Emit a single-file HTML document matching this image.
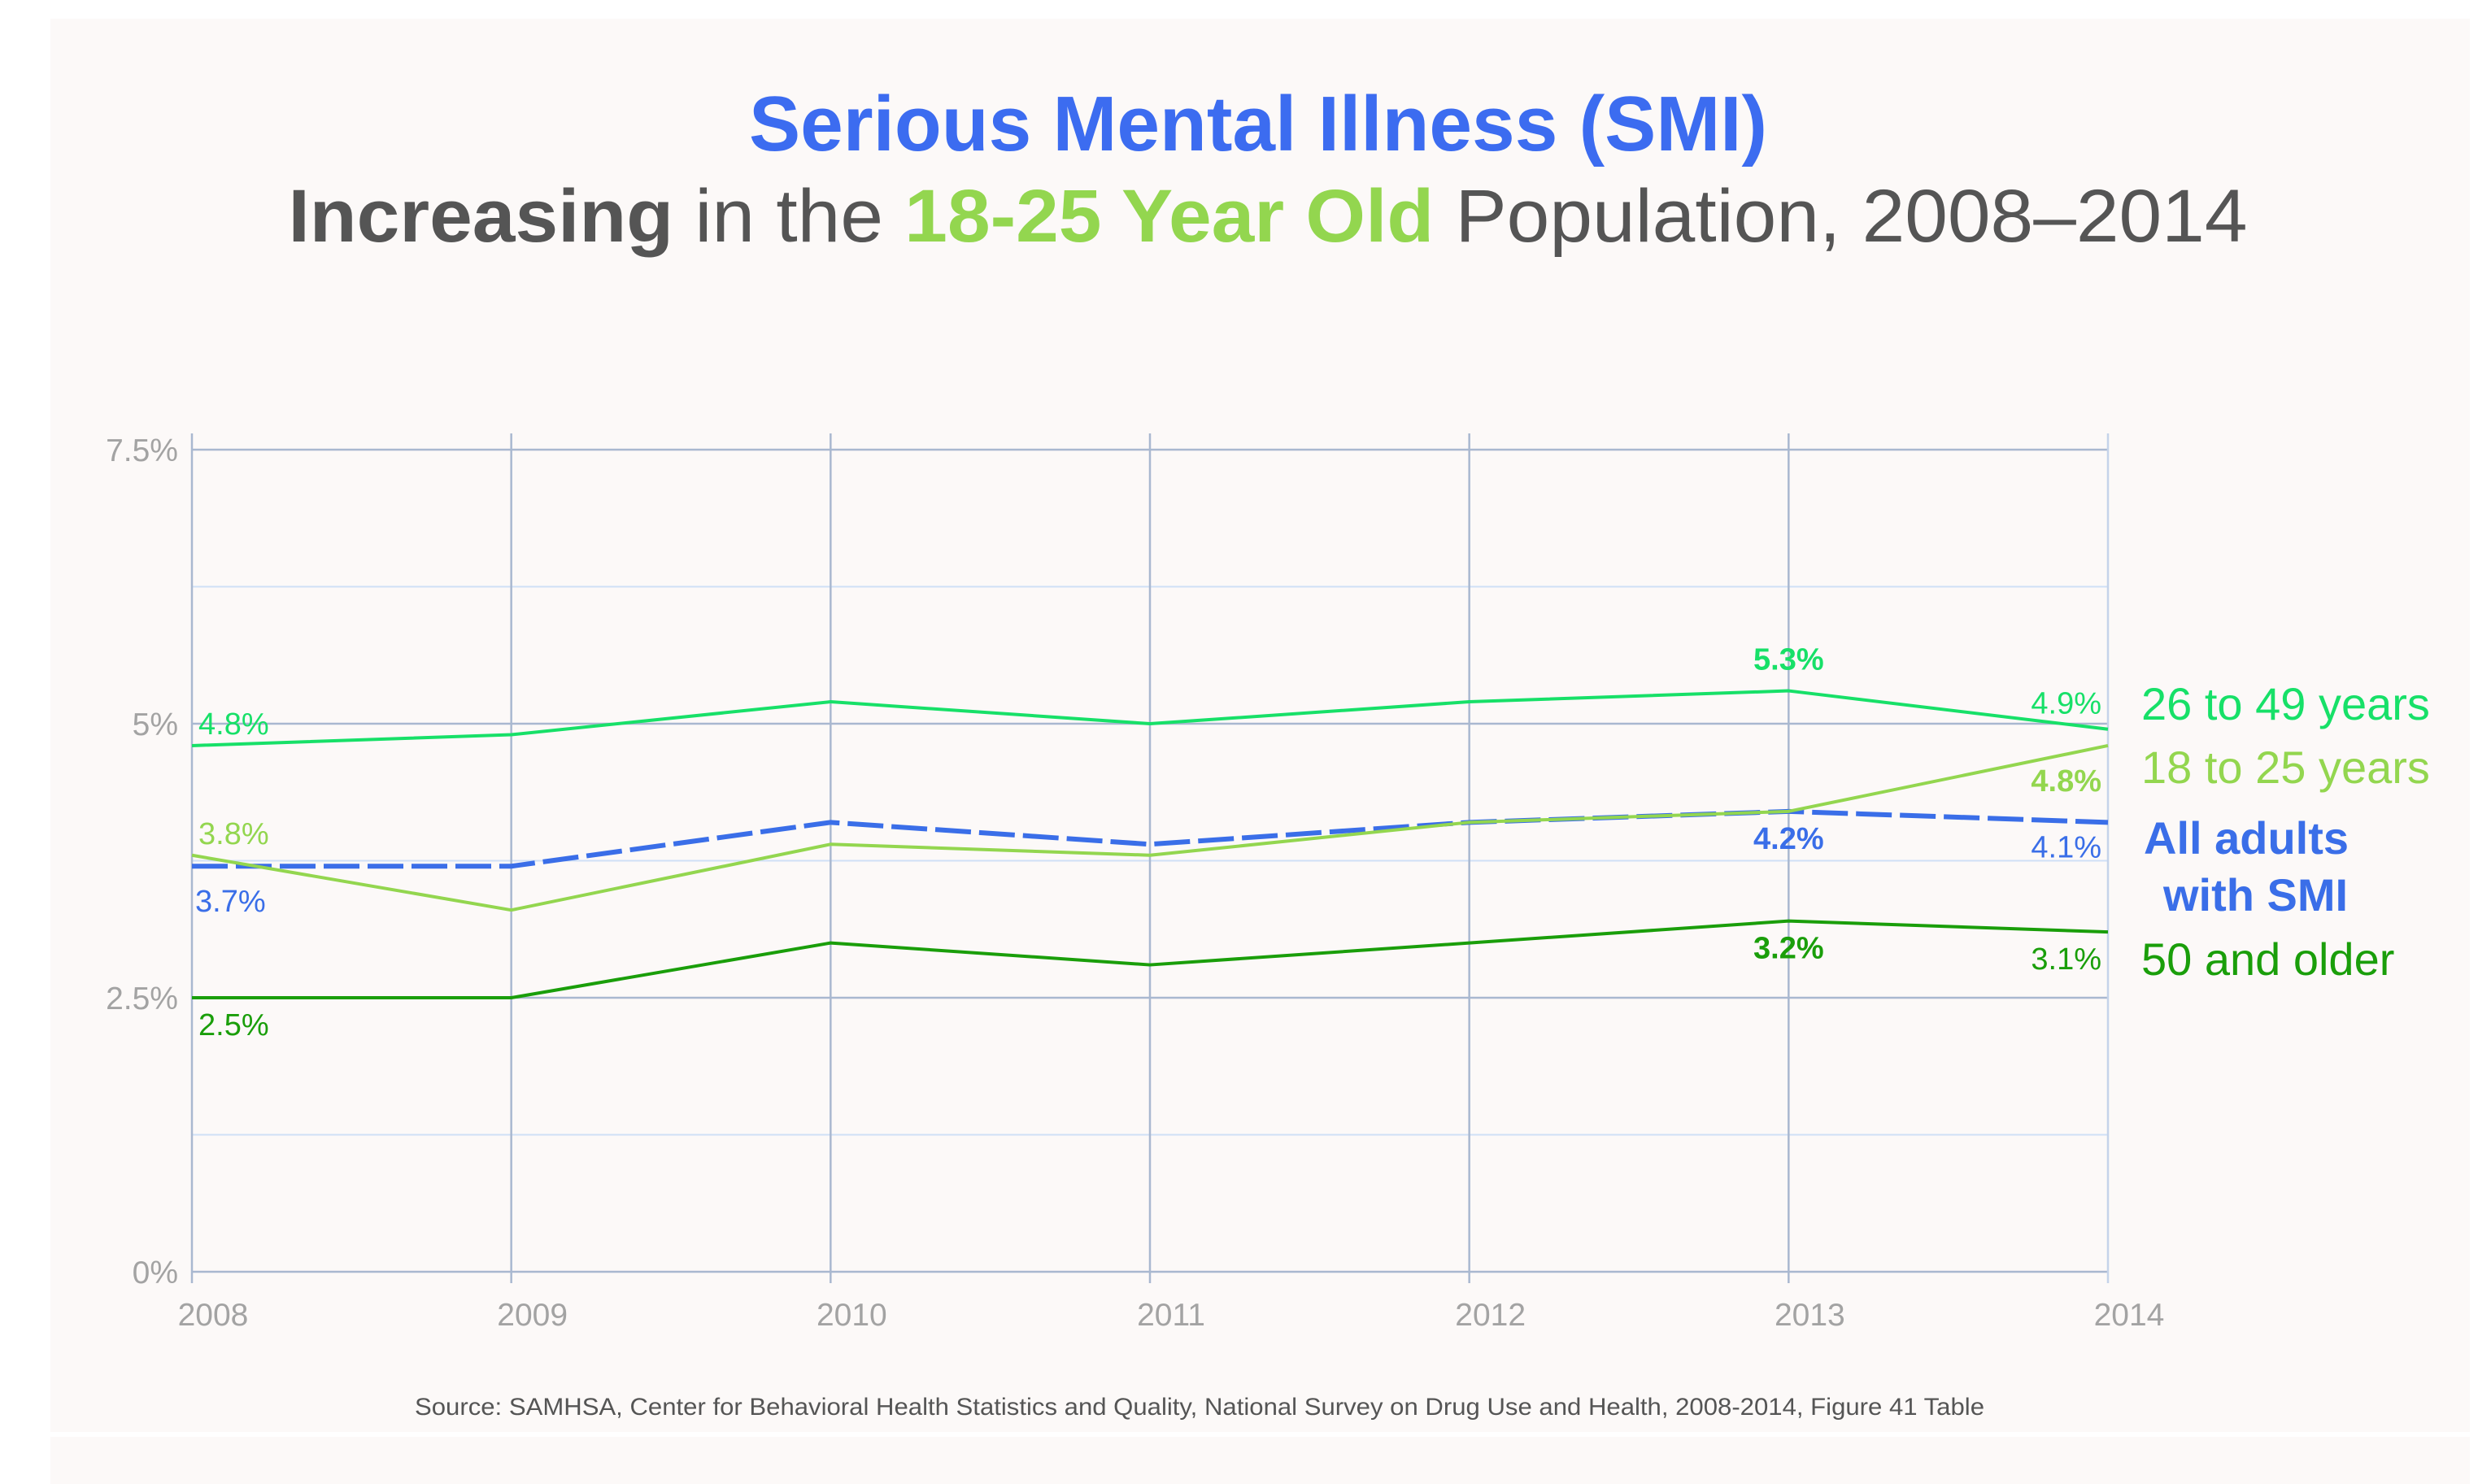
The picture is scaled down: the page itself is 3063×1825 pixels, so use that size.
<!DOCTYPE html>
<html><head><meta charset="utf-8">
<style>
html,body{margin:0;padding:0;background:#fff;}
svg{display:block;font-family:"Liberation Sans",Arial,sans-serif;}
</style></head>
<body>
<svg id="chart" width="3063" height="1825" viewBox="0 0 3063 1825" xmlns="http://www.w3.org/2000/svg">
<rect x="0" y="0" width="3063" height="1825" fill="#ffffff"/>
<rect x="62" y="23" width="2975" height="1738" fill="#fcf9f8"/>
<rect x="62" y="1767" width="2975" height="58" fill="#fcf9f8"/>
<text x="1547" y="185" text-anchor="middle" font-size="96" font-weight="bold" fill="#3c6cf0" textLength="1252" lengthAdjust="spacingAndGlyphs">Serious Mental Illness (SMI)</text>
<text x="1559" y="297" text-anchor="middle" font-size="92" fill="#555555" textLength="2409" lengthAdjust="spacingAndGlyphs"><tspan font-weight="bold">Increasing</tspan> in the <tspan font-weight="bold" fill="#93d64f">18-25 Year Old</tspan> Population, 2008–2014</text>
<g id="grid"></g>
<g id="axes"></g>
<g id="series"></g>
<g id="labels"></g>
<g font-size="56">
<text x="2633" y="885" fill="#17e068">26 to 49 years</text>
<text x="2633" y="963" fill="#93d64f">18 to 25 years</text>
<text x="2636" y="1050" fill="#3a6ee8" font-weight="bold">All adults</text>
<text x="2660" y="1120" fill="#3a6ee8" font-weight="bold">with SMI</text>
<text x="2633" y="1199" fill="#1a9e0a">50 and older</text>
</g>
<text x="1475" y="1740" text-anchor="middle" font-size="30" fill="#555555" textLength="1930" lengthAdjust="spacingAndGlyphs">Source: SAMHSA, Center for Behavioral Health Statistics and Quality, National Survey on Drug Use and Health, 2008-2014,  Figure 41 Table</text>
</svg>
<script>
const years = ["2008","2009","2010","2011","2012","2013","2014"];
const yTicks = [0, 2.5, 5, 7.5];
const yTickLabels = ["0%","2.5%","5%","7.5%"];
const minorTicks = [1.25, 3.75, 6.25];
const age26to49 = [4.8, 4.9, 5.2, 5.0, 5.2, 5.3, 4.95];
const age18to25 = [3.8, 3.3, 3.9, 3.8, 4.1, 4.2, 4.8];
const allAdults = [3.7, 3.7, 4.1, 3.9, 4.1, 4.2, 4.1];
const age50plus = [2.5, 2.5, 3.0, 2.8, 3.0, 3.2, 3.1];
const firstLabels = ["4.8%","3.8%","3.7%","2.5%"];
const peakLabels = ["5.3%","4.2%","3.2%"];
const lastLabels = ["4.9%","4.8%","4.1%","3.1%"];

const NS = "http://www.w3.org/2000/svg";
const X0 = 236, X1 = 2592, Y0 = 1564, Y1 = 553;
const xs = i => X0 + (X1 - X0) * i / (years.length - 1);
const ys = v => Y0 - (Y0 - Y1) * v / 7.5;
function mk(tag, attrs, parent, txt){
  const e = document.createElementNS(NS, tag);
  for (const k in attrs) e.setAttribute(k, attrs[k]);
  if (txt !== undefined) e.textContent = txt;
  parent.appendChild(e); return e;
}
const grid = document.getElementById('grid');
const axes = document.getElementById('axes');
minorTicks.forEach(v => {
  const l = mk('line', {x1:X0, x2:X1, y1:ys(v), y2:ys(v), stroke:'#cfe0f6', 'stroke-width':2}, grid);
  
  
});
yTicks.forEach((v, i) => {
  const l = mk('line', {x1:X0, x2:X1, y1:ys(v), y2:ys(v), stroke:'#a9b8d0', 'stroke-width':2.5}, grid);
  
  
  const t = mk('text', {x:219, y:ys(v)+14, 'text-anchor':'end', 'font-size':39, fill:'#a3a3a3'}, axes, yTickLabels[i]);
  
  
});
years.forEach((y, i) => {
  const last = i === years.length - 1;
  const l = mk('line', {x1:xs(i), x2:xs(i), y1:533, y2:1578, stroke: last ? '#c5d3ea' : '#a9b8d0', 'stroke-width':2.5}, grid);
  
  
  const t = mk('text', {x:xs(i)+26, y:1630, 'text-anchor':'middle', 'font-size':39, fill:'#a3a3a3'}, axes, y);
  
  
});
const seriesG = document.getElementById('series');
function drawLine(vals, color, name, dash, w){
  const pts = vals.map((v, i) => xs(i) + ',' + ys(v)).join(' ');
  const attrs = {points:pts, fill:'none', stroke:color, 'stroke-width':w, 'stroke-linejoin':'round'};
  if (dash) attrs['stroke-dasharray'] = dash;
  const p = mk('polyline', attrs, seriesG);
  
  
}
drawLine(age50plus, '#1a9e0a', 'line-50-and-older', null, 4);
drawLine(allAdults, '#3a6ee8', 'line-all-adults', '44,10', 6);
drawLine(age18to25, '#93d64f', 'line-18-to-25', null, 4);
drawLine(age26to49, '#17e068', 'line-26-to-49', null, 4);

const lab = document.getElementById('labels');
function label(x, y, txt, color, anchor, bold, name){
  const t = mk('text', {x:x, y:y, 'text-anchor':anchor, 'font-size':38, fill:color, 'font-weight': bold ? 'bold' : 'normal'}, lab, txt);
  
  
}
const c = ['#17e068','#93d64f','#3a6ee8','#1a9e0a'];
label(244, ys(age26to49[0]) - 14, firstLabels[0], c[0], 'start', false, 'label-26-to-49-2008');
label(244, ys(age18to25[0]) - 14, firstLabels[1], c[1], 'start', false, 'label-18-to-25-2008');
label(240, ys(allAdults[0]) + 56, firstLabels[2], c[2], 'start', false, 'label-all-adults-2008');
label(244, ys(age50plus[0]) + 46, firstLabels[3], c[3], 'start', false, 'label-50-and-older-2008');
label(xs(5), ys(age26to49[5]) - 26, peakLabels[0], c[0], 'middle', true, 'label-26-to-49-2013');
label(xs(5), ys(allAdults[5]) + 46, peakLabels[1], c[2], 'middle', true, 'label-all-adults-2013');
label(xs(5), ys(age50plus[5]) + 46, peakLabels[2], c[3], 'middle', true, 'label-50-and-older-2013');
label(2584, ys(age26to49[6]) - 19, lastLabels[0], c[0], 'end', false, 'label-26-to-49-2014');
label(2584, ys(age18to25[6]) + 56, lastLabels[1], c[1], 'end', true, 'label-18-to-25-2014');
label(2584, ys(allAdults[6]) + 43, lastLabels[2], c[2], 'end', false, 'label-all-adults-2014');
label(2584, ys(age50plus[6]) + 46, lastLabels[3], c[3], 'end', false, 'label-50-and-older-2014');
</script>
</body></html>
